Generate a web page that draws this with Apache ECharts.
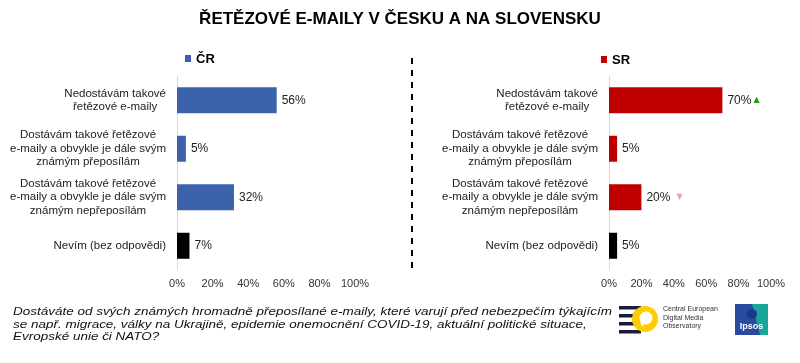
<!DOCTYPE html>
<html><head><meta charset="utf-8">
<script src="https://cdn.jsdelivr.net/npm/echarts@6/dist/echarts.min.js"></script>
<style>html,body{margin:0;padding:0;background:#fff}#c{width:800px;height:363px}</style>
</head><body><div id="c"></div>
<script>
const categories = [
  "Nedostávám takové\nřetězové e-maily",
  "Dostávám takové řetězové\ne-maily a obvykle je dále svým\nznámým přeposílám",
  "Dostávám takové řetězové\ne-maily a obvykle je dále svým\nznámým nepřeposílám",
  "Nevím (bez odpovědi)"
];
const crValues = [56, 5, 32, 7];
const srValues = [70, 5, 20, 5];
const srChange = ["up", "", "down", ""];
const xTicks = [0, 20, 40, 60, 80, 100];
const title = "ŘETĚZOVÉ E-MAILY V ČESKU A NA SLOVENSKU";
const footer = "Dostáváte od svých známých hromadně přeposílané e-maily, které varují před nebezpečím týkajícím\nse např. migrace, války na Ukrajině, epidemie onemocnění COVID-19, aktuální politické situace,\nEvropské unie či NATO?";

const FONT = "Liberation Sans, Arial, sans-serif";
const BLUE = "#3C62AC", RED = "#C00000";

function colorFor(base) {
  return p => p.dataIndex === categories.length - 1 ? "#000" : base;
}
function xAxisCfg(gi) {
  return {
    gridIndex: gi, type: "value", min: 0, max: 100, interval: 20,
    axisLine: {show: false}, axisTick: {show: false}, splitLine: {show: false},
    axisLabel: {formatter: v => xTicks.includes(v) ? v + "%" : "", fontFamily: FONT, fontSize: 11, color: "#333", margin: 8}
  };
}
function yAxisCfg(gi) {
  return {
    gridIndex: gi, type: "category", data: categories, inverse: true,
    axisLine: {show: true, lineStyle: {color: "#d9d9d9", width: 1}}, axisTick: {show: false},
    axisLabel: {
      align: "right", margin: 11,
      formatter: v => v.split("\n").map(l => "{c|" + l + "}").join("\n"),
      rich: {c: {align: "center", fontFamily: FONT, fontSize: 11.5, lineHeight: 13.5, color: "#222"}}
    }
  };
}

const chart = echarts.init(document.getElementById("c"), null, {renderer: "canvas"});
chart.setOption({
  animation: false,
  backgroundColor: "#fff",
  title: {text: title, left: "center", top: 6, textStyle: {fontFamily: FONT, fontSize: 17, fontWeight: "bold", color: "#000"}},
  grid: [
    {left: 177, width: 178, top: 76, height: 194},
    {left: 609, width: 162, top: 76, height: 194}
  ],
  xAxis: [xAxisCfg(0), xAxisCfg(1)],
  yAxis: [yAxisCfg(0), yAxisCfg(1)],
  series: [
    {
      type: "bar", xAxisIndex: 0, yAxisIndex: 0, data: crValues, barWidth: 26,
      itemStyle: {color: colorFor(BLUE)},
      label: {show: true, position: "right", distance: 5, formatter: "{c}%", fontFamily: FONT, fontSize: 12, color: "#222"}
    },
    {
      type: "bar", xAxisIndex: 1, yAxisIndex: 1, data: srValues, barWidth: 26,
      itemStyle: {color: colorFor(RED)},
      label: {
        show: true, position: "right", distance: 5,
        formatter: p => {
          const c = srChange[p.dataIndex];
          return "{v|" + p.value + "%}" + (c === "up" ? "{up|▲}" : c === "down" ? "{down|▼}" : "");
        },
        rich: {
          v: {fontFamily: FONT, fontSize: 12, color: "#222"},
          up: {color: "#1a9c1a", fontSize: 8, fontFamily: "DejaVu Sans", padding: [0, 0, 0, 2]},
          down: {color: "#f4a0a8", fontSize: 8, fontFamily: "DejaVu Sans", padding: [0, 0, 0, 6]}
        }
      }
    }
  ],
  graphic: [
    // legends
    {type: "rect", shape: {x: 185, y: 55, width: 6, height: 7}, style: {fill: BLUE}},
    {type: "text", style: {x: 196, y: 59, text: "ČR", font: "bold 13px " + FONT, fill: "#000", textVerticalAlign: "middle"}},
    {type: "rect", shape: {x: 601, y: 56, width: 6, height: 7}, style: {fill: RED}},
    {type: "text", style: {x: 612, y: 60, text: "SR", font: "bold 13px " + FONT, fill: "#000", textVerticalAlign: "middle"}},
    // divider
    {type: "line", shape: {x1: 412, y1: 58, x2: 412, y2: 270}, style: {stroke: "#000", lineWidth: 2, lineDash: [6, 6]}},
    // footer (widened lettering as in the reference)
    {type: "text", x: 13, y: 306, scaleX: 1.225, style: {x: 0, y: 0, text: footer, font: "italic 11px " + FONT, fill: "#111", lineHeight: 12.5}},
    // CEDMO logo
    {type: "rect", shape: {x: 619, y: 306, width: 22, height: 3.5}, style: {fill: "#1d1d3a"}},
    {type: "rect", shape: {x: 619, y: 314, width: 22, height: 3.5}, style: {fill: "#1d1d3a"}},
    {type: "rect", shape: {x: 619, y: 322, width: 22, height: 3.5}, style: {fill: "#1d1d3a"}},
    {type: "rect", shape: {x: 619, y: 330, width: 22, height: 3.5}, style: {fill: "#1d1d3a"}},
    {type: "circle", shape: {cx: 645, cy: 319, r: 13}, style: {fill: "#FFCC00"}},
    {type: "circle", shape: {cx: 646, cy: 318, r: 6.5}, style: {fill: "#fff"}},
    {type: "polygon", shape: {points: [[640, 321], [642, 327], [645, 323]]}, style: {fill: "#fff"}},
    {type: "text", style: {x: 663, y: 305, text: "Central European\nDigital Media\nObservatory", font: "7px " + FONT, fill: "#333", lineHeight: 8.5}},
    // Ipsos logo
    {type: "rect", shape: {x: 735, y: 304, width: 33, height: 31}, style: {fill: "#2a4aa0"}},
    {type: "polygon", shape: {points: [[752, 304], [768, 304], [768, 335], [760, 335]]}, style: {fill: "#1aa59a"}},
    {type: "circle", shape: {cx: 752, cy: 314, r: 5}, style: {fill: "#173a8c"}},
    {type: "text", style: {x: 751.5, y: 327, text: "Ipsos", font: "bold 9px " + FONT, fill: "#fff", textAlign: "center", textVerticalAlign: "middle"}}
  ]
});
</script></body></html>
